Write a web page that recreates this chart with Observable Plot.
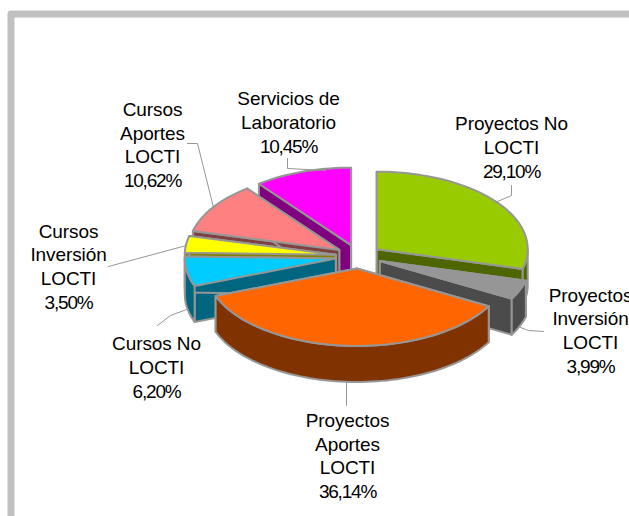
<!DOCTYPE html>
<html><head><meta charset="utf-8">
<style>html,body{margin:0;padding:0;background:#fff;overflow:hidden}svg{display:block}
.names{letter-spacing:-0.1px}.shares{letter-spacing:-1.2px}</style>
<script src="https://cdn.jsdelivr.net/npm/d3@7"></script>
<script src="https://cdn.jsdelivr.net/npm/@observablehq/plot@0.6"></script>
</head><body><script>
// Data
const categories = ["Proyectos No\nLOCTI","Proyectos\nInversión\nLOCTI","Proyectos\nAportes\nLOCTI","Cursos No\nLOCTI","Cursos\nInversión\nLOCTI","Cursos\nAportes\nLOCTI","Servicios de\nLaboratorio"];
const values = [29.10,3.99,36.14,6.20,3.50,10.62,10.45];
const topColors = ["#99CC00","#969696","#FF6600","#00CCFF","#FFFF00","#FF8080","#FF00FF"];
const sideColors = ["#4D6600","#4B4B4B","#803300","#006680","#808000","#804040","#800080"];
const drawOrder = [6,5,4,3,0,1,2];
// Layout
const W=629,H=516,cx=358,cy=256,rx=151,ry=77.5,depth=36,explodeX=23,explodeY=12,edge="#969696",lineH=23.7;
const labelAt = [[511,146],[590,329],[347,454.5],[156,366],[68,265],[152,143.5],[288,121]];
const leaders = [
 [[511,185],[511,195],[497,201]],
 [[543,331],[528,330],[520,327]],
 [[346,405],[346,382]],
 [[157,325],[170,315],[186,309]],
 [[108,266],[186,245]],
 [[187,143],[197,143],[213,207]],
 [[287,158],[287,168],[325,170]]
];
const frame = [[10.5,516],[10.5,13.5],[629,13.5]];
const total = d3.sum(values);
const rad = d=>d*Math.PI/180;
let acc=0;
const slices = values.map((v,i)=>{
  const a0=acc/total*360; acc+=v; const a1=acc/total*360; const mid=(a0+a1)/2;
  return {i,a0,a1,ax:cx+explodeX*Math.sin(rad(mid)),ay:cy-explodeY*Math.cos(rad(mid))};
});
const pt=(s,a,dz=0)=>({x:s.ax+rx*Math.sin(rad(a)),y:s.ay-ry*Math.cos(rad(a))+dz});
const arc=(s,a,b,dz=0)=>{const n=Math.max(2,Math.ceil(Math.abs(b-a)/2));return d3.range(n+1).map(k=>pt(s,a+(b-a)*k/n,dz));};
const poly=(pts,fill,w=2)=>Plot.line([...pts,pts[0]],{x:"x",y:"y",fill,stroke:edge,strokeWidth:w,strokeLinejoin:"round"});
const marks=[];
marks.push(Plot.line(frame,{x:d=>d[0],y:d=>d[1],stroke:"#C0C0C0",strokeWidth:7,strokeLinejoin:"round"}));
for(const i of drawOrder){
  const s=slices[i],apex={x:s.ax,y:s.ay},apexD={x:s.ax,y:s.ay+depth};
  for(const a of [s.a0,s.a1]) marks.push(poly([apex,pt(s,a),pt(s,a,depth),apexD],sideColors[i]));
  const lo=Math.max(s.a0,90),hi=Math.min(s.a1,270);
  if(hi>lo) marks.push(poly([...arc(s,lo,hi),...arc(s,hi,lo,depth)],sideColors[i]));
  marks.push(poly([apex,...arc(s,s.a0,s.a1)],topColors[i]));
}
leaders.forEach(l=>marks.push(Plot.line(l,{x:d=>d[0],y:d=>d[1],stroke:edge,strokeWidth:1})));
const labels=categories.map((c,i)=>{
  const n=c.split("\n").length;
  return {name:c,share:values[i].toFixed(2).replace(".",",")+"%",x:labelAt[i][0],yName:labelAt[i][1]-lineH/2,yShare:labelAt[i][1]+n*lineH/2};
});
const textOpts={x:"x",textAnchor:"middle",lineAnchor:"middle",lineHeight:lineH/19,fontSize:19,fontFamily:"Liberation Sans",fill:"#000"};
marks.push(Plot.text(labels,{...textOpts,y:"yName",text:"name",className:"names"}));
marks.push(Plot.text(labels,{...textOpts,y:"yShare",text:"share",className:"shares"}));
const chart=Plot.plot({width:W,height:H,margin:0,
  x:{domain:[0,W],range:[0,W],axis:null},y:{domain:[0,H],range:[0,H],axis:null},
  style:{background:"#fff"},marks});
document.body.appendChild(chart);
</script></body></html>
